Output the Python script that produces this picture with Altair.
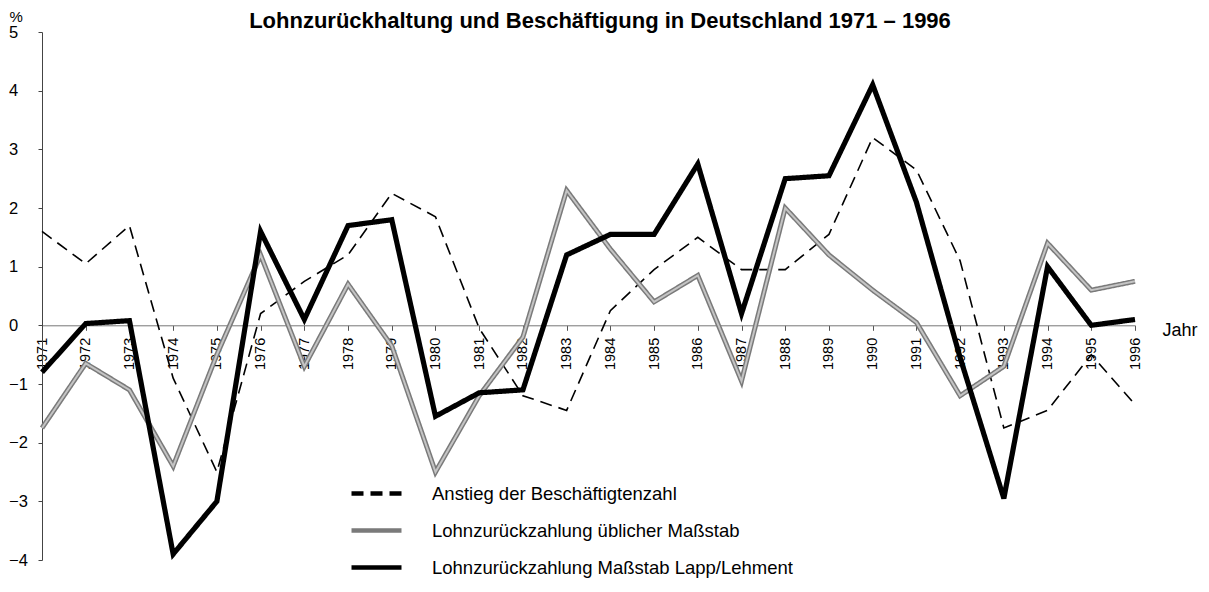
import altair as alt
import pandas as pd

years = list(range(1971, 1997))
beschaeftigung = [1.6, 1.05, 1.7, -0.9, -2.5, 0.2, 0.75, 1.2, 2.25, 1.85,
                  -0.05, -1.2, -1.45, 0.25, 0.95, 1.5, 0.95, 0.95, 1.55, 3.2,
                  2.65, 1.1, -1.75, -1.45, -0.5, -1.35]
ueblich = [-1.75, -0.65, -1.1, -2.4, -0.5, 1.2, -0.7, 0.7, -0.35, -2.5,
           -1.2, -0.2, 2.3, 1.3, 0.4, 0.85, -0.95, 2.0, 1.2, 0.6,
           0.05, -1.2, -0.7, 1.4, 0.6, 0.75]
lapp = [-0.8, 0.03, 0.08, -3.9, -3.0, 1.6, 0.1, 1.7, 1.8, -1.55,
        -1.15, -1.1, 1.2, 1.55, 1.55, 2.75, 0.2, 2.5, 2.55, 4.1,
        2.1, -0.55, -2.95, 1.0, 0.0, 0.1]
series_names = ["Anstieg der Beschäftigtenzahl",
                "Lohnzurückzahlung üblicher Maßstab",
                "Lohnzurückzahlung Maßstab Lapp/Lehment"]
y_ticks = list(range(-4, 6))

rows = []
for name, vals in zip(series_names, [beschaeftigung, ueblich, lapp]):
    for yr, v in zip(years, vals):
        rows.append({"year": yr, "value": v, "series": name})
df = pd.DataFrame(rows)

FONT = "Liberation Sans"

x_enc = alt.X("year:Q",
              scale=alt.Scale(domain=[1971, 1996], nice=False, zero=False),
              axis=alt.Axis(values=years, format="d", labelAngle=270,
                            offset=-234.7, title="Jahr", titleAngle=0,
                            titleX=1120, titleY=5, titleAlign="left",
                            titleBaseline="middle", titleFontSize=18,
                            titleFontWeight="normal", grid=False, tickSize=5,
                            labelFontSize=14.5, labelPadding=7,
                            domainColor="#777", tickColor="#555",
                            labelColor="black", titleColor="black"))
y_enc = alt.Y("value:Q",
              scale=alt.Scale(domain=[-4, 5], nice=False, zero=False),
              axis=alt.Axis(values=y_ticks, title="%", titleAngle=0,
                            titleX=-33, titleY=-16, titleAlign="left",
                            titleBaseline="middle", titleFontSize=15,
                            titleFontWeight="normal", labelFontSize=16.5,
                            labelAlign="left",
                            tickSize=4, labelPadding=29.5, grid=False,
                            domainColor="#444", tickColor="#444",
                            labelColor="black", titleColor="black"))

legend = alt.Legend(orient="none", legendX=307, legendY=434,
                    title=None, symbolType="stroke",
                    symbolSize=2500, symbolStrokeWidth=4.5,
                    labelFontSize=18.5, labelOffset=28, rowPadding=-21.5,
                    labelFont=FONT, labelColor="black", labelLimit=500)

color_enc = alt.Color("series:N",
                      scale=alt.Scale(domain=series_names,
                                      range=["black", "#7a7a7a", "black"]),
                      legend=legend)
dash_enc = alt.StrokeDash("series:N",
                          scale=alt.Scale(domain=series_names,
                                          range=[[12, 7], [1, 0], [1, 0]]),
                          legend=legend)

base = alt.Chart(df).encode(x=x_enc, y=y_enc, order="year:Q")

dashed = base.transform_filter(
    alt.datum.series == series_names[0]
).mark_line(strokeWidth=1.6).encode(color=color_enc, strokeDash=dash_enc)

gray_outer = base.transform_filter(
    alt.datum.series == series_names[1]
).mark_line(strokeWidth=5).encode(color=color_enc, strokeDash=dash_enc)

gray_inner = base.transform_filter(
    alt.datum.series == series_names[1]
).mark_line(color="#c4c4c4", strokeWidth=2)

black_line = base.transform_filter(
    alt.datum.series == series_names[2]
).mark_line(strokeWidth=5.2).encode(color=color_enc, strokeDash=dash_enc)

chart = alt.layer(dashed, gray_outer, gray_inner, black_line).properties(
    width=1093, height=528,
    title=alt.TitleParams("Lohnzurückhaltung und Beschäftigung in Deutschland 1971 – 1996",
                          fontSize=22, fontWeight="bold", anchor="middle",
                          dx=11.5, dy=27.5, offset=4, font=FONT, color="black"),
    autosize=alt.AutoSizeParams(type="none"),
    padding={"left": 34, "top": 24, "right": 66, "bottom": 20},
).configure(font=FONT).configure_view(stroke=None).configure_axis(
    labelFont=FONT, titleFont=FONT
)

chart.save("out.html", embed_options={"renderer": "svg", "actions": False})
